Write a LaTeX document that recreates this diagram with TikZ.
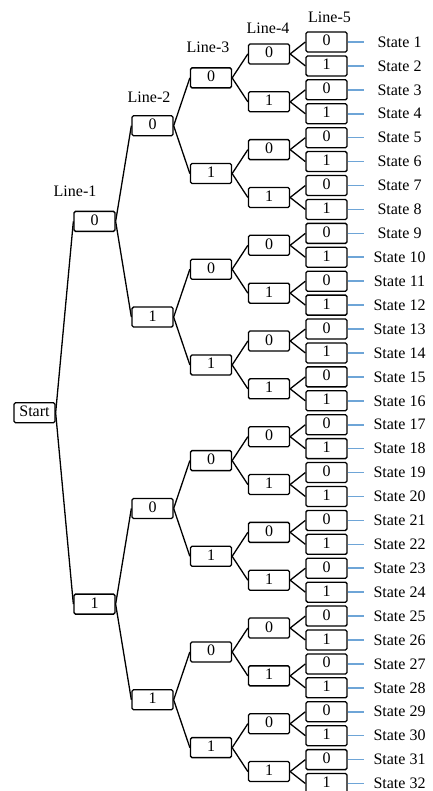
\documentclass[tikz,border=0pt]{standalone}
\usepackage{fontspec}
\setmainfont{Liberation Serif}
\definecolor{stateblue}{RGB}{110,165,215}
\begin{document}
\begin{tikzpicture}[x=1pt,y=-1pt,
  box/.style={draw, line width=1.3pt, rounded corners=1.5pt, minimum width=41pt, minimum height=20pt, inner sep=0pt, font=\fontsize{16}{16}\selectfont, text height=11pt, text depth=3pt},
  link/.style={line width=1.3pt},
  tick/.style={line width=1.6pt, draw=stateblue},
  lbl/.style={font=\fontsize{16}{16}\selectfont, inner sep=0pt}]
\useasboundingbox (0,0) rectangle (432,791);
\node[box] (n0-1) at (34.5, {42+23.92*15.5}) {Start};
\foreach \L/\s/\x in {1/16/94.5, 2/8/152.5, 3/4/211, 4/2/269, 5/1/326.5} {
  \pgfmathtruncatemacro\N{32/\s}
  \pgfmathtruncatemacro\Lp{\L-1}
  \foreach \q in {1,...,\N} {
    \pgfmathtruncatemacro\d{mod(\q-1,2)}
    \pgfmathtruncatemacro\P{(\q+1)/2}
    \node[box] (n\L-\q) at (\x, {42+23.92*(\s*\q-(\s+1)/2)}) {\d};
    \draw[link] (n\Lp-\P.east) -- (n\L-\q.west);
  }
}
\foreach \i in {1,...,32} {
  \coordinate (e\i) at (364, {42+23.92*(\i-1)});
  \draw[tick] (n5-\i.east) -- (e\i);
  \node[lbl] (s\i) at (399.5, {42+23.92*(\i-1)}) {State \i};
}
\node[lbl] (h1) at (75,191) {Line-1};
\node[lbl] (h2) at (149,97) {Line-2};
\node[lbl] (h3) at (208,47.5) {Line-3};
\node[lbl] (h4) at (268,28) {Line-4};
\node[lbl] (h5) at (329.5,17) {Line-5};
\end{tikzpicture}
\end{document}
